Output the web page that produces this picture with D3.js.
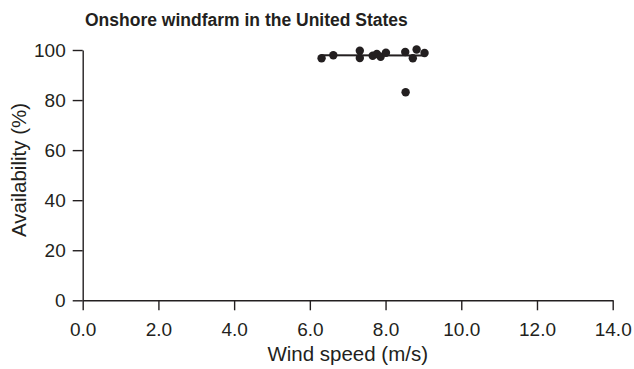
<!DOCTYPE html>
<html>
<head>
<meta charset="utf-8">
<script src="https://cdn.jsdelivr.net/npm/d3@7"></script>
<style>
  html, body { margin: 0; padding: 0; background: #fff; }
  svg { display: block; font-family: "Liberation Sans", Arial, sans-serif; }
</style>
</head>
<body>
<svg id="chart" width="634" height="369"></svg>
<script>
// Turbine availability against mean wind speed
const windSpeed    = [6.31, 6.62, 7.32, 7.32, 7.66, 7.77, 7.87, 8.01, 8.52, 8.72, 8.82, 9.03, 8.53];
const availability = [96.7, 97.9, 99.7, 96.8, 97.7, 98.4, 97.3, 98.9, 99.2, 96.7, 100.2, 98.8, 83.1];

// Trend line end points
const trendX = [6.31, 9.03];
const trendY = [97.9, 97.8];

const xTicks = [0, 2, 4, 6, 8, 10, 12, 14];
const yTicks = [0, 20, 40, 60, 80, 100];

const titleText = "Onshore windfarm in the United States";
const xTitle = "Wind speed (m/s)";
const yTitle = "Availability (%)";

const ink = "#231f20";
const fontStack = '"Liberation Sans", Arial, sans-serif';
const svg = d3.select("#chart");

const x = d3.scaleLinear().domain([0, 14]).range([82.7, 612.7]);
const y = d3.scaleLinear().domain([0, 100]).range([300.3, 50]);

// x axis
const gx = svg.append("g")
  .attr("transform", `translate(0,${y(0)})`)
  .call(d3.axisBottom(x).tickValues(xTicks).tickFormat(d3.format(".1f"))
        .tickSizeInner(10).tickSizeOuter(0).tickPadding(12));

// y axis
const gy = svg.append("g")
  .attr("transform", `translate(${x(0)},0)`)
  .call(d3.axisLeft(y).tickValues(yTicks)
        .tickSizeInner(10).tickSizeOuter(0).tickPadding(7));

[gx, gy].forEach(g => {
  g.select(".domain").attr("stroke", ink).attr("stroke-width", 1.4);
  g.selectAll(".tick line").attr("stroke", ink).attr("stroke-width", 1.4);
  g.selectAll(".tick text").attr("fill", ink).style("font-size", "19px")
    .style("font-family", fontStack);
});

// trend line
svg.append("line")
  .attr("x1", x(trendX[0])).attr("y1", y(trendY[0]))
  .attr("x2", x(trendX[1])).attr("y2", y(trendY[1]))
  .attr("stroke", ink).attr("stroke-width", 2);

// points
svg.append("g").selectAll("circle")
  .data(windSpeed.map((w, i) => [w, availability[i]]))
  .join("circle")
  .attr("cx", d => x(d[0]))
  .attr("cy", d => y(d[1]))
  .attr("r", 4.2)
  .attr("fill", ink);

// titles
svg.append("text")
  .attr("x", 85).attr("y", 26)
  .attr("fill", ink)
  .style("font-size", "17.5px").style("font-weight", "bold")
  .text(titleText);

svg.append("text")
  .attr("x", (x(0) + x(14)) / 2).attr("y", 361)
  .attr("text-anchor", "middle")
  .attr("fill", ink)
  .style("font-size", "20.5px")
  .text(xTitle);

svg.append("text")
  .attr("transform", `translate(26,170) rotate(-90)`)
  .attr("text-anchor", "middle")
  .attr("fill", ink)
  .style("font-size", "20.5px")
  .text(yTitle);
</script>
</body>
</html>
